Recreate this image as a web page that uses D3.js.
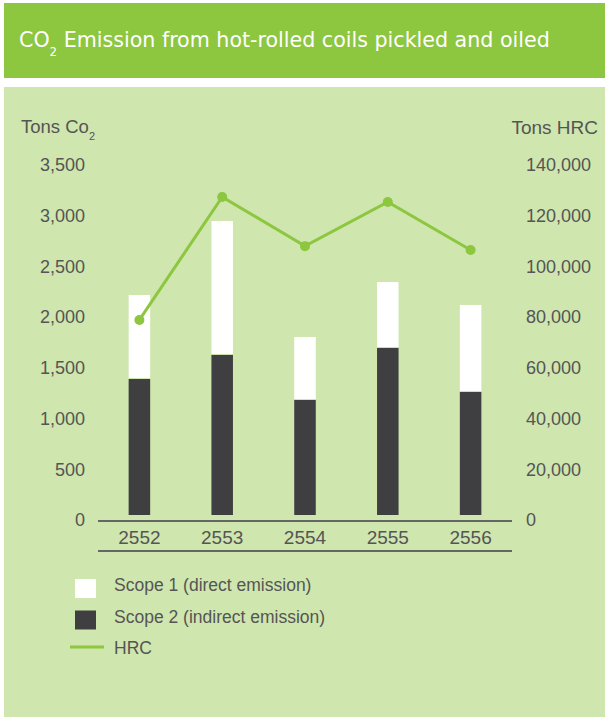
<!DOCTYPE html>
<html>
<head>
<meta charset="utf-8">
<script src="https://cdnjs.cloudflare.com/ajax/libs/d3/7.8.5/d3.min.js"></script>
<style>
  body { margin: 0; background: #fff; }
  svg text { font-family: "Liberation Sans", Arial, sans-serif; }
</style>
</head>
<body>
<svg></svg>
<script>
// chart data
let years = ["2552", "2553", "2554", "2555", "2556"];
let scope1 = [828, 1321, 621, 650, 858];     // direct emission (white, stacked on top)
let scope2 = [1390, 1627, 1183, 1696, 1262]; // indirect emission (dark)
let hrc = [78900, 127400, 108000, 125400, 106500];
let leftTicks = [0, 500, 1000, 1500, 2000, 2500, 3000, 3500];
let rightTicks = [0, 20000, 40000, 60000, 80000, 100000, 120000, 140000];

let width = 605;
let height = 717;
let green = "#8dc63f";
let dark = "#3f3f41";
let grey = "#555";

let svg = d3.select("svg")
            .attr("width", width)
            .attr("height", height);

// header bar
svg.append("rect")
   .attr("x", 4).attr("y", 3)
   .attr("width", width - 4).attr("height", 75)
   .attr("fill", green);

let title = svg.append("text")
   .attr("x", 19)
   .attr("y", 47.5)
   .attr("fill", "#fff")
   .style("font-family", "'DejaVu Sans Condensed', 'Liberation Sans Narrow', sans-serif")
   .style("font-size", "21px");
title.append("tspan").text("CO");
title.append("tspan").attr("dy", 9).style("font-size", "12px").text("2");
title.append("tspan").attr("dy", -9).text(" Emission from hot-rolled coils pickled and oiled");

// squeeze/stretch title to the reference width
let tw = title.node().getComputedTextLength();
title.attr("transform", `translate(19,0) scale(${531 / tw},1) translate(-19,0)`);

// panel
svg.append("rect")
   .attr("x", 4).attr("y", 87)
   .attr("width", width - 4).attr("height", height - 87)
   .attr("fill", "#cfe6ae");

let x = d3.scaleBand()
          .domain(years)
          .range([98, 512])
          .paddingInner(0.74)
          .paddingOuter(0.37);

let yLeft = d3.scaleLinear()
              .domain([0, 3500])
              .range([520, 165]);

let yRight = d3.scaleLinear()
               .domain([0, 140000])
               .range([520, 165]);

// axis titles
let lt = svg.append("text")
   .attr("x", 21).attr("y", 133)
   .attr("fill", grey)
   .style("font-size", "18.5px");
lt.append("tspan").text("Tons Co");
lt.append("tspan").attr("dy", 7).style("font-size", "11px").text("2");

svg.append("text")
   .attr("x", 598).attr("y", 134)
   .attr("text-anchor", "end")
   .attr("fill", grey)
   .style("font-size", "19px")
   .text("Tons HRC");

// left axis
let leftAxis = svg.append("g")
   .attr("transform", "translate(85,0)")
   .call(d3.axisLeft(yLeft).tickValues(leftTicks).tickSize(0).tickPadding(0).tickFormat(d3.format(",")));

// right axis
let rightAxis = svg.append("g")
   .attr("transform", "translate(526,0)")
   .call(d3.axisRight(yRight).tickValues(rightTicks).tickSize(0).tickPadding(0).tickFormat(d3.format(",")));

[leftAxis, rightAxis].forEach(g => {
  g.select(".domain").remove();
  g.selectAll("text")
   .attr("fill", grey)
   .style("font-size", "18px")
   .style("font-family", "'Liberation Sans', Arial, sans-serif");
});

// bars
let stackData = years.map((yr, i) => ({year: yr, s2: scope2[i], s1: scope1[i]}));

svg.append("g").selectAll("rect")
   .data(stackData)
   .enter()
   .append("rect")
     .attr("x", d => x(d.year))
     .attr("width", x.bandwidth())
     .attr("y", d => yLeft(d.s2 + d.s1))
     .attr("height", d => yLeft(d.s2) - yLeft(d.s2 + d.s1) - 1)
     .attr("fill", "#fff");

svg.append("g").selectAll("rect")
   .data(stackData)
   .enter()
   .append("rect")
     .attr("x", d => x(d.year))
     .attr("width", x.bandwidth())
     .attr("y", d => yLeft(d.s2))
     .attr("height", d => yLeft(0) - 5 - yLeft(d.s2))
     .attr("fill", dark);

// x axis lines
svg.append("line")
   .attr("x1", 98).attr("x2", 512)
   .attr("y1", yLeft(0) + 1).attr("y2", yLeft(0) + 1)
   .attr("stroke", "#666").attr("stroke-width", 2);

svg.append("line")
   .attr("x1", 98).attr("x2", 512)
   .attr("y1", 551).attr("y2", 551)
   .attr("stroke", "#666").attr("stroke-width", 2);

svg.append("g").selectAll("text")
   .data(years)
   .enter()
   .append("text")
     .attr("x", d => x(d) + x.bandwidth() / 2)
     .attr("y", 543.5)
     .attr("text-anchor", "middle")
     .attr("fill", grey)
     .style("font-size", "19px")
     .text(d => d);

// HRC line
let line = d3.line()
             .x((d, i) => x(years[i]) + x.bandwidth() / 2)
             .y(d => yRight(d));

svg.append("path")
   .datum(hrc)
   .attr("d", line)
   .attr("fill", "none")
   .attr("stroke", green)
   .attr("stroke-width", 3);

svg.append("g").selectAll("circle")
   .data(hrc)
   .enter()
   .append("circle")
     .attr("cx", (d, i) => x(years[i]) + x.bandwidth() / 2)
     .attr("cy", d => yRight(d))
     .attr("r", 5)
     .attr("fill", green);

// legend
let legend = [
  {label: "Scope 1 (direct emission)", type: "box", color: "#fff"},
  {label: "Scope 2 (indirect emission)", type: "box", color: dark},
  {label: "HRC", type: "line", color: green}
];

let lg = svg.append("g").selectAll("g")
   .data(legend)
   .enter()
   .append("g")
     .attr("transform", (d, i) => `translate(0,${585 + i * 31.5})`);

lg.filter(d => d.type === "box")
  .append("rect")
    .attr("x", 75).attr("y", -6)
    .attr("width", 21).attr("height", 19)
    .attr("fill", d => d.color);

lg.filter(d => d.type === "line")
  .append("line")
    .attr("x1", 70).attr("x2", 104)
    .attr("y1", -1).attr("y2", -1)
    .attr("stroke", d => d.color)
    .attr("stroke-width", 3);

lg.append("text")
  .attr("x", 114)
  .attr("dy", "0.35em")
  .attr("fill", grey)
  .style("font-size", "17.5px")
  .text(d => d.label);
</script>
</body>
</html>
